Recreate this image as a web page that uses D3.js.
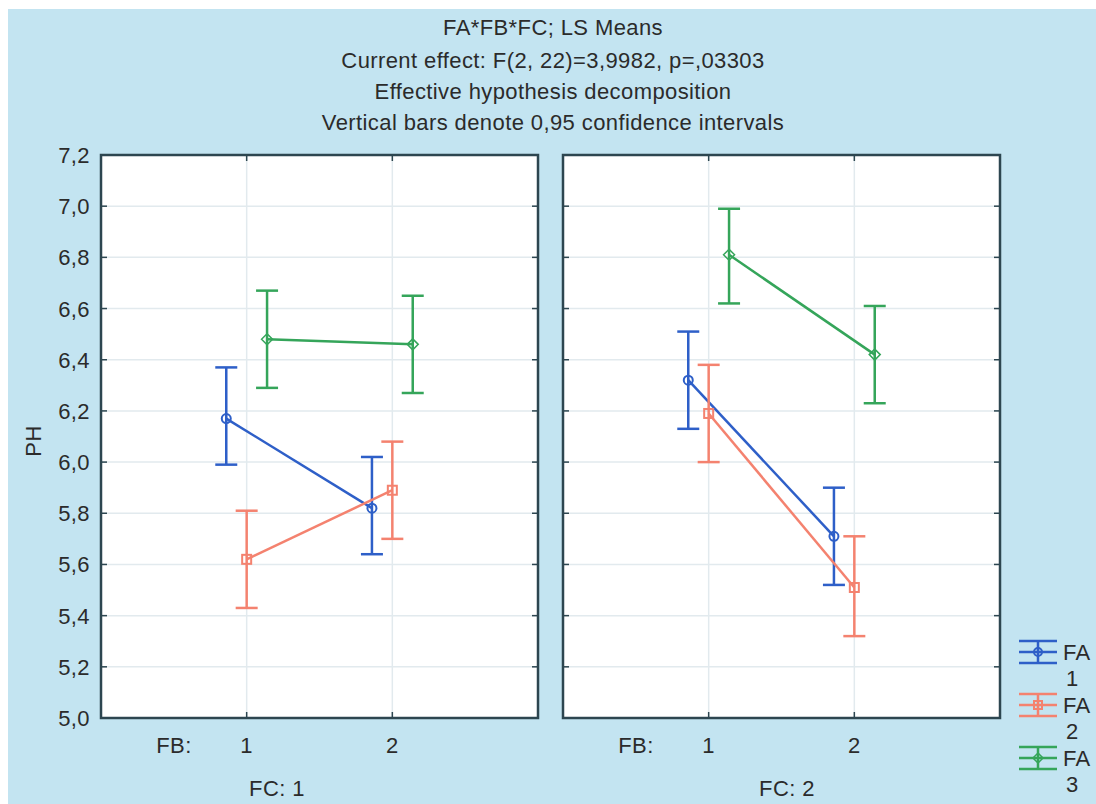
<!DOCTYPE html>
<html>
<head>
<meta charset="utf-8">
<script src="https://cdn.jsdelivr.net/npm/d3@7/dist/d3.min.js"></script>
<style>
  body { margin: 0; background: #fff; }
  text { font-family: "Liberation Sans", Arial, sans-serif; fill: #2b2b2b; font-size: 22px; letter-spacing: 0.4px; }
</style>
</head>
<body>
<script>
// ---- data ----
var titleLines = ["FA*FB*FC; LS Means",
                  "Current effect: F(2, 22)=3,9982, p=,03303",
                  "Effective hypothesis decomposition",
                  "Vertical bars denote 0,95 confidence intervals"];
var fcLevels = ["1", "2"];
var fbLevels = ["1", "2"];
var faLevels = ["1", "2", "3"];
var yTicks = [5.0, 5.2, 5.4, 5.6, 5.8, 6.0, 6.2, 6.4, 6.6, 6.8, 7.0, 7.2];

// means[fc] -> [FB1, FB2]
var fa1Means = [[6.17, 5.82], [6.32, 5.71]];
var fa2Means = [[5.62, 5.89], [6.19, 5.51]];
var fa3Means = [[6.48, 6.46], [6.81, 6.42]];
// lower/upper 95% limits
var fa1Low  = [[5.99, 5.64], [6.13, 5.52]];
var fa1High = [[6.37, 6.02], [6.51, 5.90]];
var fa2Low  = [[5.43, 5.70], [6.00, 5.32]];
var fa2High = [[5.81, 6.08], [6.38, 5.71]];
var fa3Low  = [[6.29, 6.27], [6.62, 6.23]];
var fa3High = [[6.67, 6.65], [6.99, 6.61]];

var colors = ["#2e5fc8", "#f4826f", "#35a55a"];
var shapes = ["circle", "square", "diamond"];
var offsets = [-0.14, 0, 0.14];

var means = [fa1Means, fa2Means, fa3Means];
var lows = [fa1Low, fa2Low, fa3Low];
var highs = [fa1High, fa2High, fa3High];

var W = 1096, H = 804;
var svg = d3.select("body").append("svg")
    .attr("width", W).attr("height", H);

svg.append("rect").attr("x", 0).attr("y", 0).attr("width", W).attr("height", H).attr("fill", "#fff");
svg.append("rect").attr("x", 8).attr("y", 9).attr("width", W - 8).attr("height", H - 9).attr("fill", "#c3e4f1");

// title
svg.append("g").selectAll("text")
  .data(titleLines).enter().append("text")
  .attr("x", 553)
  .attr("y", function(d, i) { return [35, 68, 99, 130][i]; })
  .attr("text-anchor", "middle")
  .text(function(d) { return d; });

var plotTop = 155, plotBottom = 718;
var y = d3.scaleLinear().domain([5.0, 7.2]).range([plotBottom, plotTop]);
var panelLeft = [101, 563];
var panelW = 437;
var fcLabelX = [277, 787];

// y axis labels
svg.append("g").selectAll("text")
  .data(yTicks).enter().append("text")
  .attr("x", 90)
  .attr("y", function(d) { return y(d) + 8; })
  .attr("text-anchor", "end")
  .text(function(d) { return d3.format(".1f")(d).replace(".", ","); });

svg.append("text")
  .attr("transform", "translate(41,441) rotate(-90)")
  .attr("text-anchor", "middle")
  .text("PH");

function marker(g, shape, cx, cy, col, r) {
  if (shape === "circle") {
    g.append("circle").attr("cx", cx).attr("cy", cy).attr("r", r)
      .attr("fill", "none").attr("stroke", col).attr("stroke-width", 2);
  } else if (shape === "square") {
    g.append("rect").attr("x", cx - r).attr("y", cy - r).attr("width", 2 * r).attr("height", 2 * r)
      .attr("fill", "none").attr("stroke", col).attr("stroke-width", 2);
  } else {
    g.append("path")
      .attr("d", "M" + cx + "," + (cy - r - 1) + "L" + (cx + r + 1) + "," + cy + "L" + cx + "," + (cy + r + 1) + "L" + (cx - r - 1) + "," + cy + "Z")
      .attr("fill", "none").attr("stroke", col).attr("stroke-width", 1.5);
  }
}

fcLevels.forEach(function(fc, pi) {
  var x0 = panelLeft[pi];
  var x = d3.scaleLinear().domain([0, 3]).range([x0, x0 + panelW]);
  var g = svg.append("g");

  g.append("rect").attr("x", x0).attr("y", plotTop).attr("width", panelW).attr("height", plotBottom - plotTop)
    .attr("fill", "#fff");

  // grid
  g.append("g").selectAll("line").data(yTicks.slice(1, -1)).enter().append("line")
    .attr("x1", x0).attr("x2", x0 + panelW)
    .attr("y1", function(d) { return y(d); }).attr("y2", function(d) { return y(d); })
    .attr("stroke", "#e2eaee").attr("stroke-width", 1.5);
  g.append("g").selectAll("line").data([1, 2]).enter().append("line")
    .attr("x1", function(d) { return x(d); }).attr("x2", function(d) { return x(d); })
    .attr("y1", plotTop).attr("y2", plotBottom)
    .attr("stroke", "#e2eaee").attr("stroke-width", 1.5);

  // inner ticks
  g.append("g").selectAll("line").data(yTicks).enter().append("line")
    .attr("x1", x0).attr("x2", x0 + 6)
    .attr("y1", function(d) { return y(d); }).attr("y2", function(d) { return y(d); })
    .attr("stroke", "#2d4650").attr("stroke-width", 1.5);
  g.append("g").selectAll("line").data(yTicks).enter().append("line")
    .attr("x1", x0 + panelW - 6).attr("x2", x0 + panelW)
    .attr("y1", function(d) { return y(d); }).attr("y2", function(d) { return y(d); })
    .attr("stroke", "#2d4650").attr("stroke-width", 1.5);
  [[plotTop, plotTop + 6], [plotBottom - 6, plotBottom]].forEach(function(yy) {
    g.append("g").selectAll("line").data([1, 2]).enter().append("line")
      .attr("x1", function(d) { return x(d); }).attr("x2", function(d) { return x(d); })
      .attr("y1", yy[0]).attr("y2", yy[1])
      .attr("stroke", "#2d4650").attr("stroke-width", 1.5);
  });

  // series
  faLevels.forEach(function(fa, si) {
    var col = colors[si];
    var pts = fbLevels.map(function(fb, bi) {
      return { x: x(bi + 1 + offsets[si]), m: means[si][pi][bi], lo: lows[si][pi][bi], hi: highs[si][pi][bi] };
    });
    var sg = g.append("g");
    sg.append("path")
      .attr("d", d3.line().x(function(d) { return d.x; }).y(function(d) { return y(d.m); })(pts))
      .attr("fill", "none").attr("stroke", col).attr("stroke-width", 2.5);
    pts.forEach(function(p) {
      sg.append("line").attr("x1", p.x).attr("x2", p.x).attr("y1", y(p.lo)).attr("y2", y(p.hi))
        .attr("stroke", col).attr("stroke-width", 2.5);
      [p.lo, p.hi].forEach(function(v) {
        sg.append("line").attr("x1", p.x - 11).attr("x2", p.x + 11).attr("y1", y(v)).attr("y2", y(v))
          .attr("stroke", col).attr("stroke-width", 2.5);
      });
      marker(sg, shapes[si], p.x, y(p.m), col, 4.5);
    });
  });

  // border
  g.append("rect").attr("x", x0).attr("y", plotTop).attr("width", panelW).attr("height", plotBottom - plotTop)
    .attr("fill", "none").attr("stroke", "#2d4650").attr("stroke-width", 2.5);

  // x labels
  g.append("text").attr("x", x0 + 73).attr("y", 753).attr("text-anchor", "middle").text("FB:");
  g.append("g").selectAll("text").data(fbLevels).enter().append("text")
    .attr("x", function(d, i) { return x(i + 1); }).attr("y", 753).attr("text-anchor", "middle")
    .text(function(d) { return d; });
  g.append("text").attr("x", fcLabelX[pi]).attr("y", 796).attr("text-anchor", "middle")
    .text("FC: " + fc);
});

// legend
var leg = svg.append("g");
faLevels.forEach(function(fa, si) {
  var cy = [652, 705, 758][si];
  var col = colors[si];
  var lx = 1038;
  [-11, 0, 11].forEach(function(dy) {
    leg.append("line").attr("x1", lx - 19).attr("x2", lx + 19).attr("y1", cy + dy).attr("y2", cy + dy)
      .attr("stroke", col).attr("stroke-width", 2.5);
  });
  leg.append("line").attr("x1", lx).attr("x2", lx).attr("y1", cy - 11).attr("y2", cy + 11)
    .attr("stroke", col).attr("stroke-width", 2.5);
  marker(leg, shapes[si], lx, cy, col, 4);
  leg.append("text").attr("x", 1063).attr("y", cy + 8).text("FA");
  leg.append("text").attr("x", 1066).attr("y", cy + 34).text(fa);
});
</script>
</body>
</html>
